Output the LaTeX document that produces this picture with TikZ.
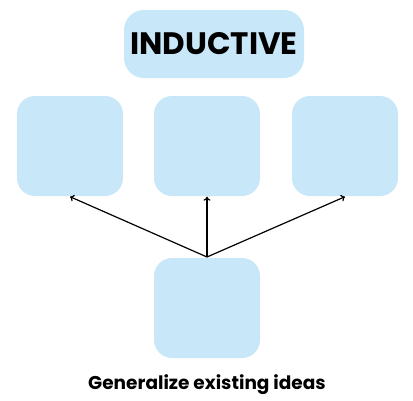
\documentclass[tikz,border=0pt]{standalone}
\usepackage{fontspec}
\setmainfont{Poppins}
\usetikzlibrary{arrows.meta}
\definecolor{boxblue}{HTML}{C8E7F8}
\tikzset{
  box/.style={fill=boxblue, draw=none, rounded corners=18pt, minimum width=106pt, minimum height=100pt, inner sep=0pt},
  topbox/.style={fill=boxblue, draw=none, rounded corners=20pt, minimum width=180pt, minimum height=68pt, inner sep=0pt, font=\fontsize{31}{36}\selectfont\bfseries},
  conn/.style={-{To[length=4pt,width=7pt]}, line width=1.2pt, black},
  caption/.style={font=\fontsize{18.5}{22}\selectfont\bfseries}
}
\begin{document}
\begin{tikzpicture}[x=1pt,y=-1pt]
\useasboundingbox (0,0) rectangle (413,400);
\node[topbox] (top) at (214,44) {INDUCTIVE};
\node[box] (l) at (70,146) {};
\node[box] (m) at (207,146) {};
\node[box] (r) at (345,146) {};
\node[box] (b) at (207,308) {};
\coordinate (src) at (207,257);
\draw[conn] (src) -- ([yshift=-0.5pt]l.south);
\draw[conn] (src) -- ([yshift=-0.5pt]m.south);
\draw[conn] (src) -- ([yshift=-0.5pt]r.south);
\node[caption] (cap) at (207,385) {Generalize existing ideas};
\end{tikzpicture}
\end{document}
